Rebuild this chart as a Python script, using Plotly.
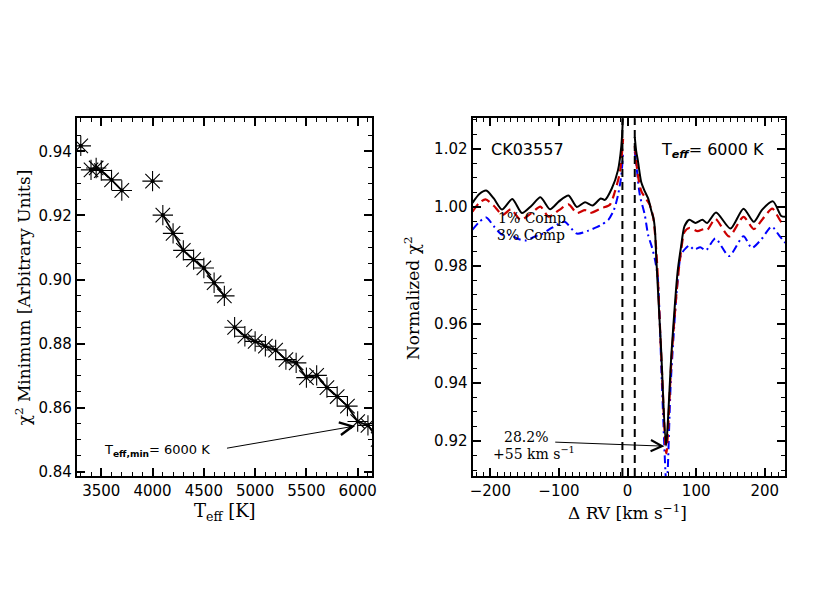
import plotly.graph_objects as go

# ---------------- data: left panel ----------------
teff = [3300, 3400, 3450, 3500, 3600, 3700, 4000, 4100, 4200, 4300, 4400, 4500,
        4600, 4700, 4800, 4900, 5000, 5100, 5200, 5300, 5400, 5500, 5600, 5700,
        5800, 5900, 6000, 6100, 6200]
chi2_min = [0.9417, 0.9342, 0.9348, 0.9340, 0.9311, 0.9278, 0.9307, 0.9201, 0.9144,
            0.9091, 0.9062, 0.9036, 0.8990, 0.8949, 0.8851, 0.8823, 0.8807, 0.8792,
            0.8780, 0.8750, 0.8740, 0.8694, 0.8701, 0.8663, 0.8635, 0.8605, 0.8557,
            0.8545, 0.8501]
segment = [0, 1, 1, 1, 1, 1, 2, 3, 3, 3, 3, 3, 3, 3, 4, 4, 4, 4, 4, 4, 4, 4, 4, 4,
           4, 4, 4, 4, 4]
teff_best = 6000

# ---------------- data: right panel ----------------
black_rv = [-226, -216, -206, -195, -183, -168, -154, -140, -127, -113, -100, -86,
            -74, -62, -51, -39, -33, -23, -14, -9, -6.5, None,
            10.5, 12.7, 15, 20, 25, 30, 35, 38, 40, 42, 49, 56, 64, 73, 78, 83, 90,
            99, 109, 116, 129, 150, 169, 184, 196, 212, 224, 230]
black_chi = [1.0015, 1.0045, 1.0057, 1.0030, 0.9992, 1.0028, 0.9980, 1.0005, 1.0034,
             0.9993, 1.0020, 1.0040, 1.0001, 1.0017, 1.0006, 1.0030, 1.0025, 1.0064,
             1.0126, 1.0211, 1.0320, None,
             1.0240, 1.0190, 1.0160, 1.0085, 1.0055, 1.0030, 0.9985, 0.9960, 0.9920,
             0.9820, 0.9510, 0.9185, 0.9500, 0.9780, 0.9865, 0.9935, 0.9957, 0.9946,
             0.9957, 0.9946, 0.9982, 0.9927, 0.9995, 0.9950, 0.9991, 1.0020, 0.9970,
             0.9967]

red_rv = [-226, -216, -207, -195, -182, -170, -156, -140, -127, -115, -100, -86,
          -74, -62, -55, -38, -26, -18.5, -11, -6.5, None,
          10.5, 15, 20, 25, 32, 37, 40, 43, 49, 56.5, 64, 73, 78, 83, 90, 102, 111,
          116, 128, 148, 169, 184, 197, 211, 224, 230]
red_chi = [0.9985, 1.0015, 1.0027, 1.0005, 0.9974, 0.9993, 0.9957, 0.9980, 1.0002,
           0.9968, 0.9990, 1.0010, 0.9980, 0.9990, 0.9980, 0.9997, 1.0008, 1.0053,
           1.0121, 1.0234, None,
           1.0210, 1.0110, 1.0055, 1.0035, 1.0010, 0.9970, 0.9910, 0.9810, 0.9500,
           0.9158, 0.9480, 0.9750, 0.9850, 0.9915, 0.9929, 0.9918, 0.9925, 0.9922,
           0.9960, 0.9900, 0.9967, 0.9925, 0.9960, 0.9995, 0.9950, 0.9945]

blue_rv = [-226, -216, -206, -195, -183, -171, -160, -149, -135, -125, -110, -92,
           -74, -57, -45, -38, -28, -20, -14, -9, -6.5, None,
           10.5, 13, 18, 25, 30, 36, 40, 44, 50, 57, 63, 72, 78, 85, 90, 97, 106,
           114, 128, 148, 169, 181, 195, 210, 222, 230]
blue_chi = [0.9923, 0.9950, 0.9965, 0.9935, 0.9906, 0.9905, 0.9892, 0.9886, 0.9900,
            0.9908, 0.9930, 0.9950, 0.9910, 0.9920, 0.9932, 0.9940, 0.9957, 0.9990,
            1.0040, 1.0110, 1.0190, None,
            1.0190, 1.0140, 1.0040, 0.9975, 0.9905, 0.9860, 0.9820, 0.9760, 0.9400,
            0.9040, 0.9400, 0.9720, 0.9838, 0.9860, 0.9869, 0.9855, 0.9863, 0.9852,
            0.9893, 0.9833, 0.9901, 0.9861, 0.9890, 0.9934, 0.9900, 0.9878]

vline_rv = [-7.5, 10.5]
best_rv = 55
best_pct = 28.2
best_chi = 0.9183

W, H = 830, 600
def px(x):
    return x / W
def py(y):
    return 1 - y / H

fig = go.Figure()

# connecting lines (per segment)
lx, ly = [], []
for s in sorted(set(segment)):
    idx = [i for i, g in enumerate(segment) if g == s]
    if len(idx) > 1:
        lx += [teff[i] for i in idx] + [None]
        ly += [chi2_min[i] for i in idx] + [None]
fig.add_trace(go.Scatter(x=lx, y=ly, mode="lines", line=dict(color="black", width=1.8),
                         xaxis="x", yaxis="y", showlegend=False, hoverinfo="skip"))
fig.add_trace(go.Scatter(x=teff, y=chi2_min, mode="markers",
                         marker=dict(symbol="asterisk-open", size=17, color="black",
                                     line=dict(color="black", width=1.1)),
                         xaxis="x", yaxis="y", showlegend=False))
fig.add_trace(go.Scatter(x=teff, y=chi2_min, mode="markers",
                         marker=dict(symbol="circle", size=4, color="black"),
                         xaxis="x", yaxis="y", showlegend=False, hoverinfo="skip"))

# right panel curves
fig.add_trace(go.Scatter(x=blue_rv, y=blue_chi, mode="lines",
                         line=dict(color="#0000FF", width=2, dash="8px,4px,2px,4px",
                                   shape="spline", smoothing=0.7),
                         xaxis="x2", yaxis="y2", showlegend=False))
fig.add_trace(go.Scatter(x=red_rv, y=red_chi, mode="lines",
                         line=dict(color="#CC0000", width=2.2, dash="9px,5px",
                                   shape="spline", smoothing=0.7),
                         xaxis="x2", yaxis="y2", showlegend=False))
fig.add_trace(go.Scatter(x=black_rv, y=black_chi, mode="lines",
                         line=dict(color="black", width=2, shape="spline", smoothing=0.7),
                         xaxis="x2", yaxis="y2", showlegend=False))

for v in vline_rv:
    fig.add_shape(type="line", xref="x2", yref="y2 domain", x0=v, x1=v, y0=0, y1=1,
                  line=dict(color="black", width=2, dash="8px,5px"))

tickfont = dict(family="DejaVu Sans", size=15, color="black")
common = dict(showgrid=False, zeroline=False, showline=True, linecolor="black",
              linewidth=2, mirror="allticks", ticks="inside", ticklen=8, tickwidth=1.5,
              tickcolor="black", tickfont=tickfont)

fig.update_layout(
    width=W, height=H, margin=dict(l=0, r=0, t=0, b=0),
    paper_bgcolor="white", plot_bgcolor="white",
    xaxis=dict(domain=[px(74.5), px(372.5)], range=[3262, 6143], anchor="y",
               dtick=500, tick0=3500,
               minor=dict(dtick=100, ticks="inside", ticklen=4, tickwidth=1.2,
                          tickcolor="black"), **common),
    yaxis=dict(domain=[py(480), py(119.3)], range=[0.8387, 0.9503], anchor="x",
               dtick=0.02, tick0=0.84, tickformat=".2f",
               minor=dict(dtick=0.005, ticks="inside", ticklen=4, tickwidth=1.2,
                          tickcolor="black"), **common),
    xaxis2=dict(domain=[px(473.5), px(789)], range=[-226, 230], anchor="y2",
                dtick=100, tick0=0,
                minor=dict(dtick=10, ticks="inside", ticklen=4, tickwidth=1.2,
                           tickcolor="black"), **common),
    yaxis2=dict(domain=[py(480), py(119.3)], range=[0.9081, 1.0304], anchor="x2",
                dtick=0.02, tick0=0.92, tickformat=".2f",
                minor=dict(dtick=0.005, ticks="inside", ticklen=4, tickwidth=1.2,
                           tickcolor="black"), **common),
)

serif = "DejaVu Serif"
sans = "DejaVu Sans"
ann = []
def text(x, y, s, font, size, xanchor="center", angle=0):
    ann.append(dict(x=px(x), y=py(y), xref="paper", yref="paper", text=s,
                    showarrow=False, xanchor=xanchor, yanchor="middle", textangle=angle,
                    font=dict(family=font, size=size, color="black")))

# axis titles
text(224, 516, "T<sub>eff</sub> [K]", serif, 18)
text(20, 300, "χ<sup>2</sup> Minimum [Arbitrary Units]", serif, 17, angle=-90)
text(630, 516, "Δ RV [km s<sup>−1</sup>]", serif, 17)
text(413, 301, "Normalized χ<sup>2</sup>", serif, 17, angle=-90)

# panel labels
text(529, 151, "CK03557", sans, 16)
text(716, 152, "T<sub><b><i>eff</i></b></sub>= 6000 K", sans, 16)
text(534, 220, "1% Comp", serif, 14)
text(532, 237, "3% Comp", serif, 14)
text(527, 441, f"{best_pct}%", serif, 14)
text(536, 457, f"+{best_rv} km s<sup>−1</sup>", serif, 14)
text(100, 454, f"T<sub><b>eff,min</b></sub>= {teff_best} K", sans, 13, xanchor="left")

# arrows
ann.append(dict(x=5975, y=0.8543, xref="x", yref="y", ax=4711, ay=0.8473,
                axref="x", ayref="y", text="", showarrow=True, arrowhead=5,
                arrowsize=2.5, arrowwidth=1, arrowcolor="black"))
ann.append(dict(x=53.7, y=best_chi, xref="x2", yref="y2", ax=-107.6, ay=0.9197,
                axref="x2", ayref="y2", text="", showarrow=True, arrowhead=5,
                arrowsize=2.2, arrowwidth=1, arrowcolor="black"))

fig.update_layout(annotations=ann)
fig.write_html("out.html", config={"displayModeBar": False},
               post_script="document.body.style.margin='0';document.body.style.padding='0';")
